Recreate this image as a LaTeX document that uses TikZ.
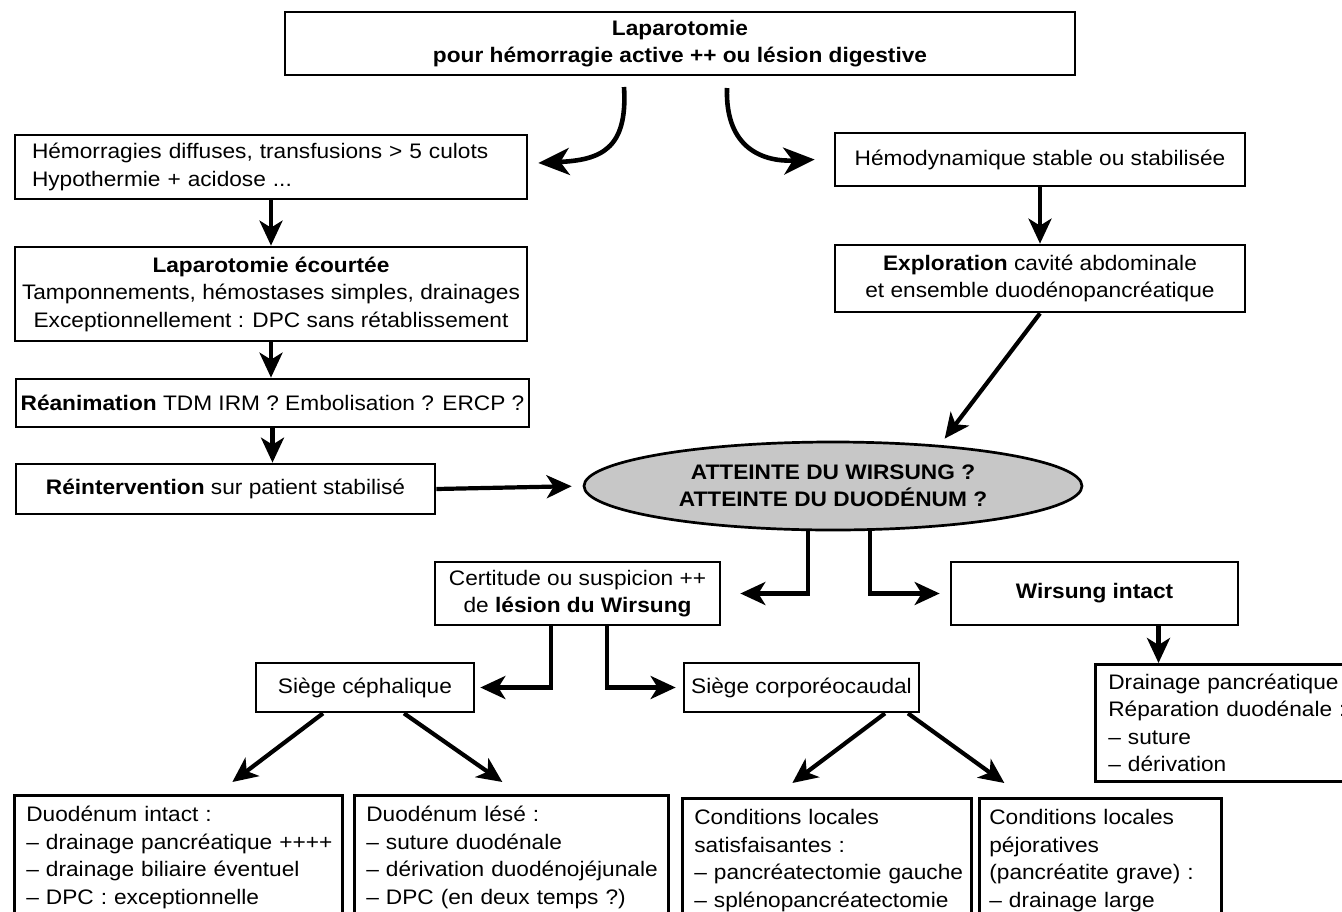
\documentclass[tikz,border=0pt]{standalone}
\usepackage{fontspec}
\setmainfont{Liberation Sans}[FakeStretch=1.08]
\usetikzlibrary{arrows.meta,shapes.geometric}
\begin{document}
\begin{tikzpicture}[x=1pt,y=-1pt,
  every node/.style={font=\fontsize{21}{27.5}\selectfont, inner sep=0pt},
  box/.style={draw, line width=2.7pt, rectangle, align=center},
  lbox/.style={box, align=left},
  arr/.style={line width=4.2pt, -{Stealth[length=25pt,width=23pt,inset=7pt]}},
  carr/.style={line width=4.6pt, -{Stealth[length=31pt,width=27pt,inset=9pt]}},
]
\useasboundingbox (0,0) rectangle (1342,911);
\clip (0,0) rectangle (1342,911);
\fill[white] (0,0) rectangle (1342,911);

\node[box, minimum width=790, minimum height=63] (top) at (680,43.5)
  {\textbf{Laparotomie}\\\textbf{pour hémorragie active ++ ou lésion digestive}};
\node[lbox, minimum height=64, text width=478, inner xsep=17] (h1) at (271,167)
  {\mbox{Hémorragies diffuses, transfusions > 5 culots}\\\mbox{Hypothermie + acidose ...}};
\node[box, minimum width=410, minimum height=53] (hemo) at (1040,159.5)
  {Hémodynamique stable ou stabilisée};
\node[box, minimum width=512, minimum height=94] (lap) at (271,294)
  {\textbf{Laparotomie écourtée}\\Tamponnements, hémostases simples, drainages\\Exceptionnellement : DPC sans rétablissement};
\node[box, minimum width=410, minimum height=67] (expl) at (1040,278.5)
  {\textbf{Exploration} cavité abdominale\\et ensemble duodénopancréatique};
\node[box, minimum width=513, minimum height=48] (rea) at (272.5,403)
  {\textbf{Réanimation} TDM IRM ? Embolisation ? ERCP ?};
\node[box, minimum width=419, minimum height=50] (reint) at (225.5,489)
  {\textbf{Réintervention} sur patient stabilisé};
\node[ellipse, draw, line width=2.7pt, fill=black!22, minimum width=498, minimum height=88, align=center] (ell) at (833,486)
  {\textbf{ATTEINTE DU WIRSUNG ?}\\\textbf{ATTEINTE DU DUODÉNUM ?}};
\node[box, minimum width=285, minimum height=63] (cert) at (577.5,593.5)
  {Certitude ou suspicion ++\\de \textbf{lésion du Wirsung}};
\node[box, minimum width=287, minimum height=63] (wint) at (1094.5,593.5)
  {\textbf{Wirsung intact}};
\node[box, minimum width=218, minimum height=49] (sceph) at (365,687.5)
  {Siège céphalique};
\node[box, minimum width=235, minimum height=49] (scorp) at (801.5,687.5)
  {Siège corporéocaudal};
\node[lbox, anchor=north west, minimum height=117, text width=240, inner xsep=13] (drain) at (1094,663)
  {\mbox{Drainage pancréatique}\\\mbox{Réparation duodénale :}\\\mbox{– suture}\\\mbox{– dérivation}};

\node[lbox, anchor=north west, text width=304, inner xsep=12, inner ysep=11] (b1) at (13,794)
  {\mbox{Duodénum intact :}\\\mbox{– drainage pancréatique ++++}\\\mbox{– drainage biliaire éventuel}\\\mbox{– DPC : exceptionnelle}};
\node[lbox, anchor=north west, text width=290, inner xsep=12, inner ysep=11] (b2) at (353,794)
  {\mbox{Duodénum lésé :}\\\mbox{– suture duodénale}\\\mbox{– dérivation duodénojéjunale}\\\mbox{– DPC (en deux temps ?)}};
\node[lbox, anchor=north west, text width=265, inner xsep=12, inner ysep=11] (b3) at (681,797)
  {\mbox{Conditions locales}\\\mbox{satisfaisantes :}\\\mbox{– pancréatectomie gauche}\\\mbox{– splénopancréatectomie}};
\node[lbox, anchor=north west, text width=222, inner xsep=10, inner ysep=11] (b4) at (978,797)
  {\mbox{Conditions locales}\\\mbox{péjoratives}\\\mbox{(pancréatite grave) :}\\\mbox{– drainage large}};

\coordinate (cL) at (624,87);
\coordinate (cR) at (727,88);
\draw[carr] (cL) .. controls (628,150) and (600,160) .. ([xshift=10,yshift=4]h1.east);
\draw[carr] (cR) .. controls (725,150) and (765,162) .. ([xshift=-19]hemo.west);
\draw[arr] (h1.south) -- (lap.north);
\draw[arr] (lap.south) -- (lap.south |- rea.north);
\draw[arr] (rea.south) -- (rea.south |- reint.north);
\draw[arr, shorten >=11pt] (reint.east) -- (ell.west);
\draw[arr] (hemo.south) -- (expl.north);
\draw[arr, shorten >=8pt] (expl.south) -- (ell.21);
\draw[arr, shorten >=19pt] ([xshift=-25]ell.south) |- (cert.east);
\draw[arr, shorten >=10pt] ([xshift=37]ell.south) |- (wint.west);
\draw[arr] ([xshift=64]wint.south) -- ([xshift=64]wint.south |- drain.north);
\draw[arr, shorten >=5pt] ([xshift=-26.5]cert.south) |- (sceph.east);
\draw[arr, shorten >=7pt] ([xshift=29.5]cert.south) |- (scorp.west);
\draw[arr] ([xshift=-42]sceph.south) -- ([xshift=54,yshift=12]b1.north);
\draw[arr] ([xshift=39]sceph.south) -- ([xshift=-9,yshift=12]b2.north);
\draw[arr] ([xshift=83.5]scorp.south) -- ([xshift=-34.5,yshift=14]b3.north);
\draw[arr] ([xshift=106.5]scorp.south) -- ([xshift=-96,yshift=14]b4.north);
\end{tikzpicture}
\end{document}
